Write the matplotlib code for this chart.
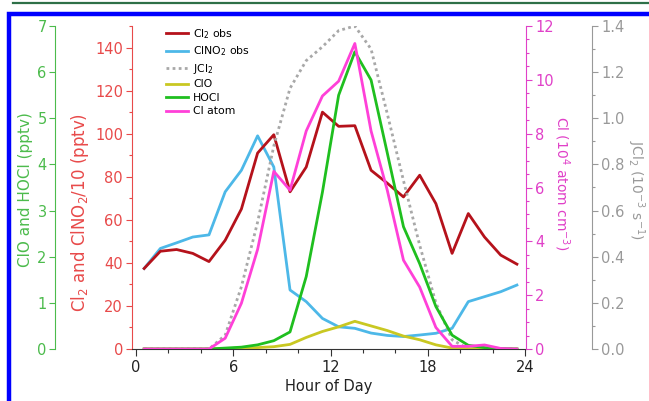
import matplotlib
matplotlib.use("Agg")
import matplotlib.pyplot as plt
from matplotlib.ticker import MultipleLocator, FormatStrFormatter
from matplotlib.lines import Line2D
from matplotlib.patches import Rectangle

plt.rcParams['font.family'] = ['DejaVu Sans']

hours = [0.5, 1.5, 2.5, 3.5, 4.5, 5.5, 6.5, 7.5, 8.5, 9.5, 10.5, 11.5,
         12.5, 13.5, 14.5, 15.5, 16.5, 17.5, 18.5, 19.5, 20.5, 21.5, 22.5, 23.5]

cl2_obs = [37.4, 45.4, 46.2, 44.4, 40.6, 50.5, 65.0, 91.0, 99.5, 73.0, 84.5, 110.0,
           103.4, 103.7, 83.0, 77.0, 70.6, 80.7, 67.5, 44.4, 62.9, 52.0, 43.6, 39.4]
clno2_obs_div10 = [37.4, 46.7, 49.3, 52.0, 53.0, 73.0, 83.0, 99.0, 84.5, 27.4, 22.0, 14.2,
                   10.3, 9.6, 7.4, 6.3, 5.8, 6.5, 7.3, 9.6, 22.0, 24.3, 26.6, 29.7]
jcl2 = [0, 0, 0, 0, 0, 0.06, 0.27, 0.55, 0.88, 1.13, 1.25, 1.31,
        1.38, 1.40, 1.30, 1.02, 0.73, 0.45, 0.20, 0.04, 0, 0, 0, 0]
clo = [0, 0, 0, 0, 0, 0.01, 0.02, 0.03, 0.05, 0.10, 0.25, 0.38,
       0.48, 0.60, 0.50, 0.40, 0.28, 0.20, 0.09, 0.02, 0.01, 0, 0, 0]
hocl = [0, 0, 0, 0, 0, 0.02, 0.04, 0.09, 0.18, 0.37, 1.57, 3.4,
        5.5, 6.44, 5.83, 4.25, 2.65, 1.85, 0.92, 0.30, 0.08, 0.03, 0.01, 0]
cl_atom = [0, 0, 0, 0, 0, 0.4, 1.7, 3.7, 6.6, 5.9, 8.1, 9.4,
           9.95, 11.35, 8.1, 5.9, 3.3, 2.3, 0.8, 0.1, 0.1, 0.15, 0.02, 0]

legend_labels = ['Cl$_2$ obs', 'ClNO$_2$ obs', 'JCl$_2$', 'ClO', 'HOCl', 'Cl atom']

C_RED_LINE = '#b5121b'
C_BLUE = '#4db8e8'
C_GRAY = '#a8a8a8'
C_YEL = '#c9c822'
C_GRN = '#1fbf1f'
C_PINK = '#ff40d8'

C_AX_GRN = '#4cbb4c'
C_AX_RED = '#e84a4a'
C_AX_PINK = '#e040c8'
C_AX_GRAY = '#999999'

W, H = 649, 401
fig = plt.figure(figsize=(W / 100, H / 100), dpi=100)

# page decorations
fig.add_artist(Line2D([13 / W, 1], [1 - 2.5 / H, 1 - 2.5 / H], color='#2e7048', lw=1.6))
fig.add_artist(Rectangle((9 / W, -0.1), 1.2, 1 - 14 / H + 0.1, fill=False,
                         edgecolor='#0000ff', lw=3.2))

L, R, B, T = 132, 526, 349, 26
ax = fig.add_axes([L / W, (H - B) / H, (R - L) / W, (B - T) / H])
ax.set_xlim(-0.25, 24.06)
ax.set_ylim(0, 150)

lw = 2.0
dot = (0, (1, 1.2))
ax.plot(hours, clno2_obs_div10, color=C_BLUE, lw=lw, zorder=2)
ax.plot(hours, cl2_obs, color=C_RED_LINE, lw=lw, zorder=3)

# JCl2 axis (gray, far right)
axj = ax.twinx()
axj.set_ylim(0, 1.4)
axj.plot(hours, jcl2, color=C_GRAY, lw=2.0, ls=dot)

# ClO / HOCl axis (green, far left)
axg = ax.twinx()
axg.set_ylim(0, 7)
axg.plot(hours, clo, color=C_YEL, lw=lw)
axg.plot(hours, hocl, color=C_GRN, lw=lw)

# Cl atom axis (pink, right)
axp = ax.twinx()
axp.set_ylim(0, 12)
axp.plot(hours, cl_atom, color=C_PINK, lw=lw)

for a in (ax, axj, axg, axp):
    for s in a.spines.values():
        s.set_visible(False)

# main axis: red left spine, dark bottom
ax.spines['left'].set_visible(True)
ax.spines['left'].set_color(C_AX_RED)
ax.spines['bottom'].set_visible(True)
ax.spines['bottom'].set_color('#333333')
ax.set_yticks([0, 20, 40, 60, 80, 100, 120, 140])
ax.yaxis.set_minor_locator(MultipleLocator(10))
ax.tick_params(axis='y', which='both', colors=C_AX_RED, labelcolor=C_AX_RED, labelsize=10.5, pad=2)
ax.tick_params(axis='y', which='major', length=4.5, width=0.8)
ax.tick_params(axis='y', which='minor', length=2.5, width=0.8)
ax.xaxis.set_major_locator(MultipleLocator(6))
ax.xaxis.set_minor_locator(MultipleLocator(2))
ax.tick_params(axis='x', which='both', colors='#333333', labelcolor='#222222', labelsize=10.5, pad=3)
ax.tick_params(axis='x', which='major', length=5, width=0.8)
ax.tick_params(axis='x', which='minor', length=3, width=0.8)
ax.set_xlabel('Hour of Day', fontsize=10.5, color='#222222', labelpad=3)
ax.set_ylabel('Cl$_2$ and ClNO$_2$/10 (pptv)', fontsize=12, color=C_AX_RED)
ax.yaxis.set_label_coords((80 - L) / (R - L), (B - 212) / (B - T))
ax.yaxis.label.set_va('center')

# green axis
axg.spines['left'].set_visible(True)
axg.spines['left'].set_position(('outward', (L - 55) * 0.72))
axg.spines['left'].set_color(C_AX_GRN)
axg.yaxis.set_ticks_position('left')
axg.yaxis.set_label_position('left')
axg.yaxis.set_major_locator(MultipleLocator(1))
axg.tick_params(axis='y', colors=C_AX_GRN, labelcolor=C_AX_GRN, labelsize=10.5, length=4, width=0.8, pad=2)
axg.set_ylabel('ClO and HOCl (pptv)', fontsize=11, color=C_AX_GRN)
axg.yaxis.set_label_coords((25 - L) / (R - L), (B - 190) / (B - T))
axg.yaxis.label.set_va('center')

# pink axis
axp.spines['right'].set_visible(True)
axp.spines['right'].set_color(C_AX_PINK)
axp.yaxis.set_major_locator(MultipleLocator(2))
axp.yaxis.set_minor_locator(MultipleLocator(0.5))
axp.tick_params(axis='y', which='both', colors=C_AX_PINK, labelcolor=C_AX_PINK, labelsize=10.5, pad=2, width=0.8)
axp.tick_params(axis='y', which='major', length=4.5)
axp.tick_params(axis='y', which='minor', length=2.5)
axp.set_ylabel('Cl (10$^4$ atom cm$^{-3}$)', fontsize=10, color=C_AX_PINK, rotation=270)
axp.yaxis.set_label_coords((562 - L) / (R - L), (B - 183) / (B - T))
axp.yaxis.label.set_va('center')

# gray JCl2 axis
axj.spines['right'].set_visible(True)
axj.spines['right'].set_position(('outward', (592 - R) * 0.72))
axj.spines['right'].set_color(C_AX_GRAY)
axj.yaxis.set_major_locator(MultipleLocator(0.2))
axj.yaxis.set_minor_locator(MultipleLocator(0.1))
axj.yaxis.set_major_formatter(FormatStrFormatter('%.1f'))
axj.tick_params(axis='y', which='both', colors=C_AX_GRAY, labelcolor=C_AX_GRAY, labelsize=10.5, pad=2, width=0.8)
axj.tick_params(axis='y', which='major', length=4.5)
axj.tick_params(axis='y', which='minor', length=2.5)
axj.set_ylabel('JCl$_2$ (10$^{-3}$ s$^{-1}$)', fontsize=10, color=C_AX_GRAY, rotation=270)
axj.yaxis.set_label_coords((636 - L) / (R - L), (B - 190) / (B - T))
axj.yaxis.label.set_va('center')

# legend
handles = [
    Line2D([], [], color=C_RED_LINE, lw=lw),
    Line2D([], [], color=C_BLUE, lw=lw),
    Line2D([], [], color=C_GRAY, lw=2.0, ls=dot),
    Line2D([], [], color=C_YEL, lw=lw),
    Line2D([], [], color=C_GRN, lw=lw),
    Line2D([], [], color=C_PINK, lw=lw),
]
fig.legend(handles, legend_labels, loc='upper left', bbox_to_anchor=(166 / W, 1 - 27 / H),
           frameon=False, fontsize=7.8, borderpad=0, borderaxespad=0,
           handlelength=2.0, handletextpad=0.5, labelspacing=0.33)

fig.savefig('out.png', dpi=100)
